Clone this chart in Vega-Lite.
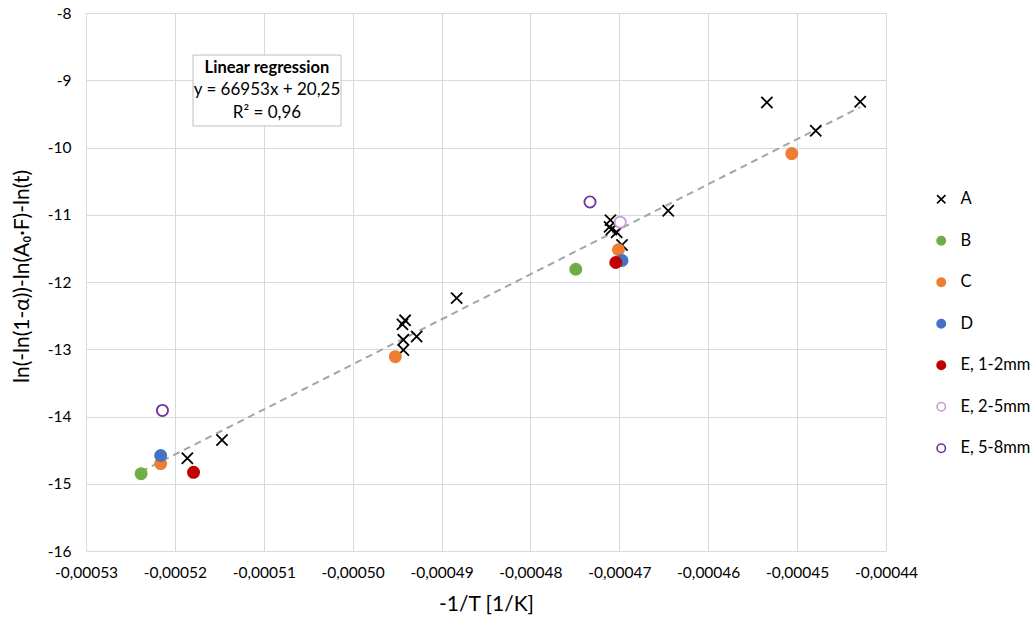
{
  "$schema": "https://vega.github.io/schema/vega-lite/v6.json",
  "width": 800,
  "height": 538,
  "autosize": {"type": "none"},
  "padding": {"left": 86, "top": 13, "right": 150, "bottom": 68},
  "background": "white",
  "config": {
    "view": {"stroke": null},
    "font": "Lato",
    "axis": {"gridColor": "#D9D9D9", "gridWidth": 1, "domain": false, "ticks": false, "labelColor": "#000000", "titleColor": "#000000", "labelFont": "Lato", "titleFont": "Lato", "titleFontWeight": "normal"}
  },
  "datasets": {
    "pts": [
      {"x": -0.0005186, "y": -14.62, "series": "A"},
      {"x": -0.0005147, "y": -14.35, "series": "A"},
      {"x": -0.0004941, "y": -12.57, "series": "A"},
      {"x": -0.0004944, "y": -12.63, "series": "A"},
      {"x": -0.0004943, "y": -12.86, "series": "A"},
      {"x": -0.0004943, "y": -13.01, "series": "A"},
      {"x": -0.0004928, "y": -12.81, "series": "A"},
      {"x": -0.0004883, "y": -12.24, "series": "A"},
      {"x": -0.0004710, "y": -11.08, "series": "A"},
      {"x": -0.0004711, "y": -11.18, "series": "A"},
      {"x": -0.0004709, "y": -11.22, "series": "A"},
      {"x": -0.0004703, "y": -11.26, "series": "A"},
      {"x": -0.0004697, "y": -11.45, "series": "A"},
      {"x": -0.0004645, "y": -10.94, "series": "A"},
      {"x": -0.0004534, "y": -9.33, "series": "A"},
      {"x": -0.0004479, "y": -9.75, "series": "A"},
      {"x": -0.0004429, "y": -9.32, "series": "A"},
      {"x": -0.0005238, "y": -14.85, "series": "B"},
      {"x": -0.0004749, "y": -11.81, "series": "B"},
      {"x": -0.0005216, "y": -14.70, "series": "C"},
      {"x": -0.0004952, "y": -13.11, "series": "C"},
      {"x": -0.0004701, "y": -11.52, "series": "C"},
      {"x": -0.0004506, "y": -10.09, "series": "C"},
      {"x": -0.0005216, "y": -14.58, "series": "D"},
      {"x": -0.0004697, "y": -11.68, "series": "D"},
      {"x": -0.0005179, "y": -14.83, "series": "E, 1-2mm"},
      {"x": -0.0004704, "y": -11.71, "series": "E, 1-2mm"},
      {"x": -0.0004699, "y": -11.11, "series": "E, 2-5mm"},
      {"x": -0.0005214, "y": -13.91, "series": "E, 5-8mm"},
      {"x": -0.0004733, "y": -10.81, "series": "E, 5-8mm"}
    ],
    "trend": [
      {"x": -0.0005238, "y": -14.82},
      {"x": -0.0004429, "y": -9.40}
    ],
    "box": [
      {"x": -0.00051796, "x2": -0.00050131, "y": -8.625, "y2": -9.68}
    ],
    "notesBold": [
      {"x": -0.00050964, "y": -8.818, "text": "Linear regression"}
    ],
    "notes": [
      {"x": -0.00050964, "y": -9.145, "text": "y = 66953x + 20,25"},
      {"x": -0.00050964, "y": -9.487, "text": "R² = 0,96"}
    ]
  },
  "layer": [
    {
      "data": {"name": "trend"},
      "mark": {"type": "line", "color": "#A5A5A5", "strokeWidth": 2, "strokeDash": [7, 5]},
      "encoding": {
        "x": {"field": "x", "type": "quantitative", "scale": {"domain": [-0.00053, -0.00044], "nice": false, "zero": false},
          "axis": {"values": [-0.00053, -0.00052, -0.00051, -0.0005, -0.00049, -0.00048, -0.00047, -0.00046, -0.00045, -0.00044],
            "labelExpr": "replace(replace(format(datum.value, '.5f'), '.', ','), '\u2212', '-')",
            "labelFlush": false, "labelOverlap": false,
            "labelFontSize": 15.5, "labelPadding": 14, "title": "-1/T [1/K]", "titleFontSize": 21, "titlePadding": 13}},
        "y": {"field": "y", "type": "quantitative", "scale": {"domain": [-16, -8], "nice": false, "zero": false},
          "axis": {"values": [-16, -15, -14, -13, -12, -11, -10, -9, -8],
            "labelExpr": "replace(format(datum.value, 'd'), '\u2212', '-')",
            "labelFlush": false, "labelOverlap": false,
            "labelFontSize": 15.5, "labelPadding": 15, "title": "ln(-ln(1-α))-ln(A₀·F)-ln(t)", "titleFontSize": 21, "titlePadding": 15, "titleY": 263}}
      }
    },
    {
      "data": {"name": "box"},
      "mark": {"type": "rect", "fill": "white", "stroke": "#BFBFBF", "strokeWidth": 1},
      "encoding": {
        "x": {"field": "x", "type": "quantitative"},
        "x2": {"field": "x2"},
        "y": {"field": "y", "type": "quantitative"},
        "y2": {"field": "y2"}
      }
    },
    {
      "data": {"name": "notesBold"},
      "mark": {"type": "text", "fontSize": 16.5, "font": "Lato", "fontWeight": "bold", "color": "black", "align": "center", "baseline": "middle"},
      "encoding": {
        "x": {"field": "x", "type": "quantitative"},
        "y": {"field": "y", "type": "quantitative"},
        "text": {"field": "text"}
      }
    },
    {
      "data": {"name": "notes"},
      "mark": {"type": "text", "fontSize": 17, "font": "Lato", "color": "black", "align": "center", "baseline": "middle"},
      "encoding": {
        "x": {"field": "x", "type": "quantitative"},
        "y": {"field": "y", "type": "quantitative"},
        "text": {"field": "text"}
      }
    },
    {
      "data": {"name": "pts"},
      "mark": {"type": "point", "size": 125, "strokeWidth": 1.8, "opacity": 1},
      "encoding": {
        "x": {"field": "x", "type": "quantitative"},
        "y": {"field": "y", "type": "quantitative"},
        "shape": {"field": "series", "type": "nominal",
          "scale": {"domain": ["A", "B", "C", "D", "E, 1-2mm", "E, 2-5mm", "E, 5-8mm"],
            "range": ["M-1,-1L1,1M1,-1L-1,1", "circle", "circle", "circle", "circle", "circle", "circle"]},
          "legend": {"title": null, "orient": "none", "legendX": 847, "legendY": 178, "padding": 0, "symbolSize": 70, "symbolStrokeWidth": 1.6, "labelFontSize": 16.5, "labelFont": "Lato", "labelColor": "black", "labelOffset": 11, "rowPadding": 24.5, "labelLimit": 300}},
        "stroke": {"field": "series", "type": "nominal",
          "scale": {"domain": ["A", "B", "C", "D", "E, 1-2mm", "E, 2-5mm", "E, 5-8mm"],
            "range": ["#000000", "#70AD47", "#ED7D31", "#4472C4", "#C00000", "#CC99DD", "#7030A0"]},
          "legend": {"title": null, "orient": "none", "legendX": 847, "legendY": 178, "padding": 0, "symbolSize": 70, "symbolStrokeWidth": 1.6, "labelFontSize": 16.5, "labelFont": "Lato", "labelColor": "black", "labelOffset": 11, "rowPadding": 24.5, "labelLimit": 300}},
        "fill": {"field": "series", "type": "nominal",
          "scale": {"domain": ["A", "B", "C", "D", "E, 1-2mm", "E, 2-5mm", "E, 5-8mm"],
            "range": ["#000000", "#70AD47", "#ED7D31", "#4472C4", "#C00000", "#FFFFFF", "#FFFFFF"]},
          "legend": {"title": null, "orient": "none", "legendX": 847, "legendY": 178, "padding": 0, "symbolSize": 70, "symbolStrokeWidth": 1.6, "labelFontSize": 16.5, "labelFont": "Lato", "labelColor": "black", "labelOffset": 11, "rowPadding": 24.5, "labelLimit": 300}}
      }
    }
  ]
}
